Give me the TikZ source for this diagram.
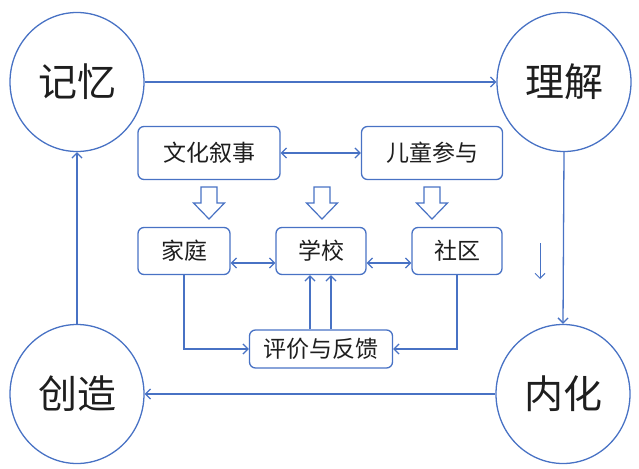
\documentclass[tikz,border=0pt]{standalone}
\usepackage{fontspec}
\newfontfamily\cjk{Noto Sans CJK SC}
\usetikzlibrary{shapes.geometric,arrows.meta}
\definecolor{lineblue}{RGB}{72,114,196}
\definecolor{textgray}{RGB}{30,30,30}
\begin{document}
\begin{tikzpicture}[x=1pt,y=-1pt,
    stage/.style={ellipse,draw=lineblue,line width=1.3pt,minimum width=134pt,minimum height=139pt,inner sep=0pt,text=textgray,font=\cjk\fontsize{39}{42}\selectfont},
    box/.style={draw=lineblue,line width=1.3pt,rounded corners=6pt,inner sep=0pt,text=textgray,font=\cjk\fontsize{23}{27}\selectfont},
    link/.style={draw=lineblue,line width=1.3pt},
    hollow/.style={draw=lineblue,line width=1.2pt,fill=white},
    >={Straight Barb[length=5pt,width=10pt]}]
      \useasboundingbox (0,0) rectangle (639,468);
      % four stages
      \node[stage] (jiyi) at (77,82) {记忆};
      \node[stage] (lijie) at (564,82) {理解};
      \node[stage] (neihua) at (563,394) {内化};
      \node[stage] (chuangzao) at (77,394) {创造};
      \draw[link,->] (jiyi.east) -- (lijie.west);
      \draw[link,->] (lijie.south) -- (neihua.north);
      \draw[link,->] (neihua.west) -- (chuangzao.east);
      \draw[link,->] (chuangzao.north) -- (jiyi.south);
      \coordinate (tip1) at (540,243);
      \coordinate (tip2) at (540,279);
      \draw[link,line width=1pt,->] (tip1) -- (tip2);
      % inner boxes
      \node[box,minimum width=142pt,minimum height=53pt] (wenhua) at (209,153) {文化叙事};
      \node[box,minimum width=141pt,minimum height=53pt] (ertong) at (432,153) {儿童参与};
      \node[box,minimum width=92pt,minimum height=47pt] (jiating) at (184,251) {家庭};
      \node[box,minimum width=90pt,minimum height=47pt] (xuexiao) at (321,251) {学校};
      \node[box,minimum width=90pt,minimum height=47pt] (shequ) at (457,251) {社区};
      \node[box,minimum width=143pt,minimum height=38pt] (pingjia) at (321,349) {评价与反馈};
      \draw[link,<->] (wenhua.east) -- (ertong.west);
      \draw[link,<->] ([yshift=-12pt]jiating.east) -- ([yshift=-12pt]xuexiao.west);
      \draw[link,<->] ([yshift=-12pt]xuexiao.east) -- ([yshift=-12pt]shequ.west);
      \draw[link,->] ([xshift=-11pt]pingjia.north) -- ([xshift=-11pt]xuexiao.south);
      \draw[link,->] ([xshift=10pt]pingjia.north) -- ([xshift=10pt]xuexiao.south);
      \draw[link,->] (jiating.south) |- (pingjia.west);
      \draw[link,->] (shequ.south) |- (pingjia.east);
      \foreach \x in {209,322,432}
        \draw[hollow] ({\x-8},187) -- ({\x+8},187) -- ({\x+8},203) -- ({\x+15.5},203)
          -- (\x,219) -- ({\x-15.5},203) -- ({\x-8},203) -- cycle;
\end{tikzpicture}
\end{document}
